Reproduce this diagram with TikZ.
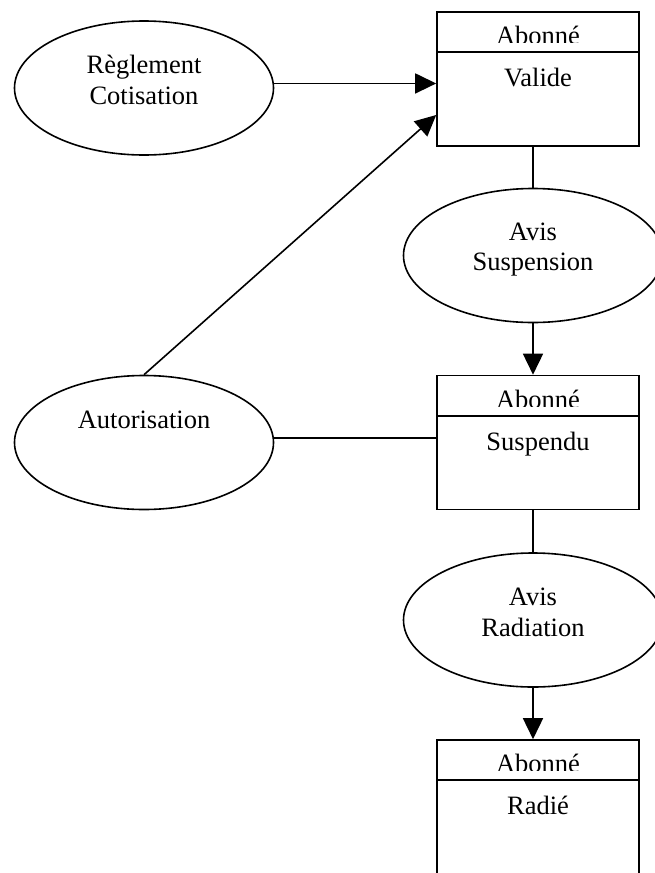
\documentclass[tikz,border=0pt]{standalone}
\usepackage{fontspec}
\setmainfont{Liberation Serif}
\usetikzlibrary{shapes.geometric,arrows.meta,calc}

\begin{document}
\begin{tikzpicture}[x=1pt,y=-1pt,
  line width=1.6pt,
  oval/.style={draw,ellipse,minimum width=259pt,minimum height=134pt,inner sep=0pt},
  statebox/.style={draw,rectangle,minimum width=202pt,minimum height=134pt,inner sep=0pt},
  lbl/.style={inner sep=0pt,font=\fontsize{26.5}{31}\selectfont},
  flow/.style={-{Triangle[length=21pt,width=20pt]}},
  link/.style={-}]
\useasboundingbox (0,0) rectangle (655,873);

% event ellipses
\node[oval] (reg) at (144,88) {};
\node[lbl,anchor=base] (reg-a) at (144,73) {Règlement};
\node[lbl,anchor=base] (reg-b) at (144,104) {Cotisation};

\node[oval] (aut) at (144,442.5) {};
\node[lbl,anchor=base] (aut-a) at (144,428) {Autorisation};

\node[oval] (avs) at (533,255.5) {};
\node[lbl,anchor=base] (avs-a) at (533,240) {Avis};
\node[lbl,anchor=base] (avs-b) at (533,270) {Suspension};

\node[oval] (avr) at (533,620) {};
\node[lbl,anchor=base] (avr-a) at (533,605) {Avis};
\node[lbl,anchor=base] (avr-b) at (533,636) {Radiation};

% state boxes: header line, clipped class name, state name
\node[statebox] (val) at (538,79) {};
\node[statebox] (sus) at (538,442.5) {};
\node[statebox] (rad) at (538,807) {};

\foreach \b/\s in {val/Valide,sus/Suspendu,rad/Radié}{
  \draw ([yshift=-41pt]\b.north west) -- ([yshift=-41pt]\b.north east);
  \begin{scope}
    \clip (\b.north west) rectangle ([yshift=-31.5pt]\b.north east);
    \node[lbl,anchor=base] (\b-h) at ([yshift=-33.5pt]\b.north) {Abonné};
  \end{scope}
  \node[lbl,anchor=base] (\b-s) at ([yshift=-75.5pt]\b.north) {\s};
}

% connectors
\draw[flow] (reg.2) -- (reg.2 -| val.west);
\draw[flow] (aut.north) -- ([yshift=-36pt]val.west);
\draw[link] (aut.2) -- (aut.2 -| sus.west);

\draw[link] (val.south -| avs.north) -- (avs.north);
\draw[flow] (avs.south) -- (avs.south |- sus.north);
\draw[link] (sus.south -| avr.north) -- (avr.north);
\draw[flow] (avr.south) -- (avr.south |- rad.north);
\end{tikzpicture}
\end{document}
